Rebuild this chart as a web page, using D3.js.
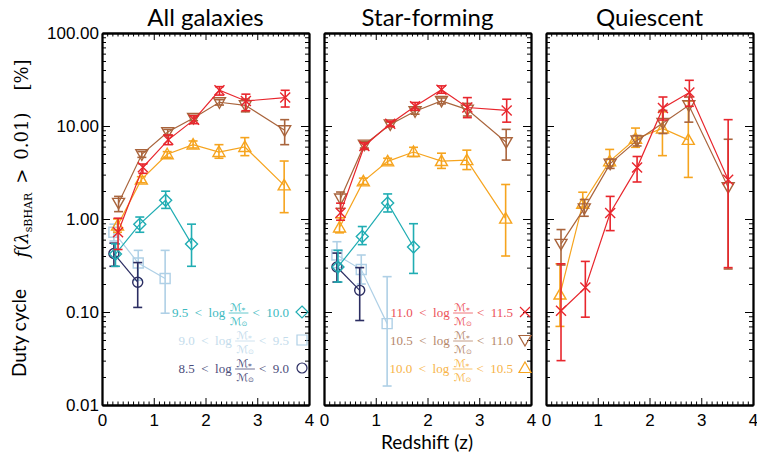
<!DOCTYPE html>
<html>
<head>
<meta charset="utf-8">
<script src="https://cdn.jsdelivr.net/npm/d3@7"></script>
<style>
body { margin: 0; background: #fff; }
</style>
</head>
<body>
<script>
// rows: [redshift, duty cycle %, lower error, upper error]
// ---- All galaxies
var all_110 = [[0.31,0.72,0.47,1.02],[0.79,3.6,3.1,3.9],[1.28,7.1,6.3,8.0],[1.78,11.7,10.6,12.9],[2.27,24.2,21.5,26.5],[2.78,18.6,14.6,22.0],[3.54,20.2,16.0,24.2]];
var all_105 = [[0.32,1.49,1.2,1.75],[0.77,4.96,4.6,5.3],[1.27,8.6,8.0,9.2],[1.77,12.2,11.4,13.0],[2.27,18.0,16.8,19.2],[2.77,16.7,14.2,19.5],[3.53,9.0,6.3,11.7]];
var all_100 = [[0.30,0.85,0.72,1.0],[0.76,2.65,2.45,2.85],[1.26,4.97,4.6,5.3],[1.76,6.3,5.8,6.9],[2.26,5.25,4.5,6.3],[2.76,5.95,4.8,7.5],[3.52,2.3,1.17,4.2]];
var all_095 = [[0.26,0.42,0.31,0.54],[0.73,0.88,0.72,1.05],[1.23,1.59,1.30,1.99],[1.73,0.54,0.31,0.88]];
var all_090 = [[0.23,0.72,0.58,0.88],[0.70,0.336,0.22,0.46],[1.22,0.229,0.097,0.46]];
var all_085 = [[0.23,0.425,0.31,0.55],[0.69,0.209,0.112,0.34]];
// ---- Star-forming
var sf_110 = [[0.32,1.17,0.97,1.48],[0.78,6.1,5.6,6.6],[1.28,10.6,9.9,11.3],[1.76,16.3,14.8,17.9],[2.27,24.6,22.5,27.0],[2.77,15.8,12.3,20.2],[3.53,14.7,11.0,19.4]];
var sf_105 = [[0.32,1.66,1.3,1.95],[0.78,6.3,5.8,6.8],[1.28,10.4,9.8,11.0],[1.76,14.4,13.4,15.5],[2.27,18.6,17.3,20.0],[2.77,15.0,12.8,17.5],[3.52,6.7,4.3,9.2]];
var sf_100 = [[0.30,0.81,0.71,1.03],[0.76,2.54,2.35,2.75],[1.23,4.17,3.85,4.5],[1.73,5.25,4.7,5.9],[2.27,4.2,3.5,5.1],[2.76,4.3,3.4,5.5],[3.51,1.01,0.40,2.35]];
var sf_095 = [[0.27,0.305,0.21,0.46],[0.74,0.65,0.53,0.83],[1.23,1.49,1.19,1.86],[1.73,0.5,0.26,0.89]];
var sf_090 = [[0.25,0.41,0.30,0.57],[0.72,0.286,0.20,0.41],[1.22,0.075,0.016,0.24]];
var sf_085 = [[0.25,0.305,0.21,0.43],[0.69,0.171,0.081,0.30]];
// ---- Quiescent
var q_110 = [[0.29,0.103,0.03,0.33],[0.76,0.183,0.088,0.35],[1.24,1.16,0.75,1.75],[1.76,3.57,2.5,4.7],[2.26,15.6,11.6,20.5],[2.77,22.9,16.3,31.0],[3.52,2.65,0.3,11.7]];
var q_105 = [[0.29,0.54,0.32,0.77],[0.74,1.3,1.07,1.62],[1.24,3.94,3.5,4.4],[1.76,7.0,6.1,7.9],[2.26,10.8,8.3,14.7],[2.76,16.7,11.0,20.5],[3.52,2.2,0.29,7.2]];
var q_100 = [[0.27,0.154,0.07,0.33],[0.71,1.46,1.34,1.94],[1.23,4.17,3.7,5.6],[1.73,7.3,5.9,9.5],[2.25,9.4,4.8,14.2],[2.75,7.1,2.8,18.6]];

var titles = ["All galaxies", "Star-forming", "Quiescent"];
var xTicks = [0, 1, 2, 3, 4];
var yTicks = [0.01, 0.1, 1, 10, 100];
var yTickLabels = ["0.01", "0.10", "1.00", "10.00", "100.00"];
var massLo = ["8.5", "9.0", "9.5", "10.0", "10.5", "11.0"];
var massHi = ["9.0", "9.5", "10.0", "10.5", "11.0", "11.5"];

// style per mass bin (index into massLo)
var colors = ["#2b2d62", "#afd0e6", "#20adb3", "#f6a41e", "#a9643c", "#e8262d"];
var textColors = ["#4b4d7a", "#c4dcec", "#3cbabf", "#f7b447", "#b5876a", "#ec5158"];
var shapes = ["circle", "square", "diamond", "triup", "tridown", "cross"];

var panelSeries = [
  [[1, all_090], [0, all_085], [2, all_095], [3, all_100], [4, all_105], [5, all_110]],
  [[1, sf_090], [0, sf_085], [2, sf_095], [3, sf_100], [4, sf_105], [5, sf_110]],
  [[3, q_100], [4, q_105], [5, q_110]]
];

var W = 757, H = 459;
var panelLeft = [102, 324, 546],
    panelWidth = 207,
    plotTop = 33, plotBottom = 405;

var svg = d3.select('body').append('svg')
  .attr('width', W).attr('height', H)
  .style('font-family', 'Liberation Sans, Arial, sans-serif');

var yScale = d3.scaleLog().domain([0.01, 100]).range([plotBottom, plotTop]);

function minorLog() {
  var out = [];
  [0.01, 0.1, 1, 10].forEach(function(d) {
    for (var k = 2; k <= 9; k++) out.push(d * k);
  });
  return out;
}

function marker(shape) {
  if (shape == "circle") return "M5,0A5,5 0 1,1 -5,0A5,5 0 1,1 5,0Z";
  if (shape == "square") return "M-5,-5H5V5H-5Z";
  if (shape == "diamond") return "M0,-6L6,0L0,6L-6,0Z";
  if (shape == "triup") return "M0,-6L6,4.5L-6,4.5Z";
  if (shape == "tridown") return "M0,6L6,-4.5L-6,-4.5Z";
  return "M-5,-5L5,5M-5,5L5,-5";
}

panelLeft.forEach(function(x0, p) {
  var xScale = d3.scaleLinear().domain([0, 4]).range([x0, x0 + panelWidth]);
  var g = svg.append('g');

  // series
  panelSeries[p].forEach(function(s) {
    var idx = s[0], rows = s[1], col = colors[idx];
    var line = d3.line()
      .x(function(d) { return xScale(d[0]); })
      .y(function(d) { return yScale(d[1]); });
    g.append('path').datum(rows)
      .attr('d', line)
      .attr('fill', 'none')
      .attr('stroke', col)
      .attr('stroke-width', 1.2);

    var eb = g.selectAll(null).data(rows).enter().append('g')
      .attr('stroke', col).attr('stroke-width', 1.6).attr('fill', 'none');
    eb.append('line')
      .attr('x1', function(d) { return xScale(d[0]); })
      .attr('x2', function(d) { return xScale(d[0]); })
      .attr('y1', function(d) { return yScale(d[2]); })
      .attr('y2', function(d) { return yScale(d[3]); });
    eb.append('line')
      .attr('x1', function(d) { return xScale(d[0]) - 4.5; })
      .attr('x2', function(d) { return xScale(d[0]) + 4.5; })
      .attr('y1', function(d) { return yScale(d[2]); })
      .attr('y2', function(d) { return yScale(d[2]); });
    eb.append('line')
      .attr('x1', function(d) { return xScale(d[0]) - 4.5; })
      .attr('x2', function(d) { return xScale(d[0]) + 4.5; })
      .attr('y1', function(d) { return yScale(d[3]); })
      .attr('y2', function(d) { return yScale(d[3]); });

    g.selectAll(null).data(rows).enter().append('path')
      .attr('transform', function(d) { return 'translate(' + xScale(d[0]) + ',' + yScale(d[1]) + ')'; })
      .attr('d', marker(shapes[idx]))
      .attr('fill', 'none')
      .attr('stroke', col)
      .attr('stroke-width', 1.4);
  });

  // axes, ticks pointing inward
  var minorX = d3.range(0, 4.001, 0.1).filter(function(d) { return Math.abs(d - Math.round(d)) > 0.01; });

  svg.append('g').attr('transform', 'translate(0,' + plotBottom + ')')
    .call(d3.axisBottom(xScale).tickValues(xTicks).tickFormat(d3.format('d')).tickSize(-7).tickSizeOuter(0).tickPadding(9));
  svg.append('g').attr('transform', 'translate(0,' + plotBottom + ')')
    .call(d3.axisBottom(xScale).tickValues(minorX).tickFormat('').tickSize(-3.5).tickSizeOuter(0));
  svg.append('g').attr('transform', 'translate(0,' + plotTop + ')')
    .call(d3.axisTop(xScale).tickValues(xTicks).tickFormat('').tickSize(-7).tickSizeOuter(0));
  svg.append('g').attr('transform', 'translate(0,' + plotTop + ')')
    .call(d3.axisTop(xScale).tickValues(minorX).tickFormat('').tickSize(-3.5).tickSizeOuter(0));

  svg.append('g').attr('transform', 'translate(' + x0 + ',0)')
    .call(d3.axisLeft(yScale).tickValues(yTicks)
      .tickFormat(function(d, i) { return p == 0 ? yTickLabels[i] : ''; })
      .tickSize(-8).tickSizeOuter(0).tickPadding(3));
  svg.append('g').attr('transform', 'translate(' + x0 + ',0)')
    .call(d3.axisLeft(yScale).tickValues(minorLog()).tickFormat('').tickSize(-4).tickSizeOuter(0));
  svg.append('g').attr('transform', 'translate(' + (x0 + panelWidth) + ',0)')
    .call(d3.axisRight(yScale).tickValues(yTicks).tickFormat('').tickSize(-8).tickSizeOuter(0));
  svg.append('g').attr('transform', 'translate(' + (x0 + panelWidth) + ',0)')
    .call(d3.axisRight(yScale).tickValues(minorLog()).tickFormat('').tickSize(-4).tickSizeOuter(0));

  svg.selectAll('.domain').attr('stroke', '#000').attr('stroke-width', 1.8);
  svg.selectAll('.tick line').attr('stroke', '#000').attr('stroke-width', 1);
  svg.selectAll('.tick text').attr('fill', '#000').attr('font-size', '17px')
    .attr('font-family', 'Liberation Sans, Arial, sans-serif');

  svg.append('text')
    .attr('x', x0 + panelWidth / 2).attr('y', 26)
    .attr('text-anchor', 'middle')
    .attr('font-family', 'Lato, sans-serif')
    .attr('font-size', '24px')
    .text(titles[p]);
});

// legends
function legendRow(idx, xRight, yBase, symX) {
  var col = textColors[idx];
  var g = svg.append('g')
    .attr('font-family', 'Liberation Serif, DejaVu Serif, serif')
    .attr('font-size', '13px')
    .attr('fill', col);
  var t1 = g.append('text').attr('x', 0).attr('y', 0).text(massLo[idx] + '\u2002<\u2002log');
  var fx = t1.node().getBBox().width + 3;
  var num = g.append('text').attr('x', fx + 1).attr('y', -6)
    .attr('font-family', 'DejaVu Sans, sans-serif').attr('font-size', '11px');
  num.append('tspan').text('ℳ');
  num.append('tspan').attr('font-size', '7.5px').attr('dy', 1.5).text('*');
  var den = g.append('text').attr('x', fx + 1).attr('y', 7.5)
    .attr('font-family', 'DejaVu Sans, sans-serif').attr('font-size', '11px');
  den.append('tspan').text('ℳ');
  den.append('tspan').attr('font-size', '7px').attr('dy', 1.5).text('⊙');
  var fw = Math.max(num.node().getBBox().width, den.node().getBBox().width) + 2;
  g.append('line').attr('x1', fx).attr('x2', fx + fw).attr('y1', -4).attr('y2', -4)
    .attr('stroke', col).attr('stroke-width', 0.8);
  g.append('text').attr('x', fx + fw + 4).attr('y', 0).text('<\u2002' + massHi[idx]);
  var bb = g.node().getBBox();
  g.attr('transform', 'translate(' + (xRight - (bb.x + bb.width)) + ',' + yBase + ')');

  svg.append('path')
    .attr('transform', 'translate(' + symX + ',' + (yBase - 5) + ')')
    .attr('d', marker(shapes[idx]))
    .attr('fill', 'none')
    .attr('stroke', colors[idx])
    .attr('stroke-width', 1.2);
}
legendRow(2, 289, 317, 302);
legendRow(1, 289, 345, 302);
legendRow(0, 289, 373, 302);
legendRow(5, 513, 317, 525);
legendRow(4, 513, 345, 525);
legendRow(3, 513, 373, 525);

// axis titles
svg.append('text')
  .attr('x', 427).attr('y', 449)
  .attr('text-anchor', 'middle')
  .attr('font-family', 'Lato, sans-serif')
  .attr('font-size', '19px')
  .text('Redshift (z)');

svg.append('text')
  .attr('transform', 'translate(26,333) rotate(-90)')
  .attr('text-anchor', 'middle')
  .attr('font-family', 'Lato, sans-serif')
  .attr('font-size', '19px')
  .text('Duty cycle');

var ft = svg.append('text')
  .attr('transform', 'translate(28,185) rotate(-90)')
  .attr('text-anchor', 'middle')
  .attr('font-family', 'DejaVu Serif, serif')
  .attr('font-size', '18px');
ft.append('tspan').attr('font-style', 'italic').text('f');
ft.append('tspan').text('(');
ft.append('tspan').attr('font-style', 'italic').text('λ');
ft.append('tspan').attr('font-size', '11px').attr('dy', 4).text('sBHAR');
ft.append('tspan').attr('dy', -4).text('\u2002>\u20020.01)');

svg.append('text')
  .attr('transform', 'translate(28,75) rotate(-90)')
  .attr('text-anchor', 'middle')
  .attr('font-family', 'DejaVu Serif, serif')
  .attr('font-size', '18px')
  .text('[%]');
</script>
</body>
</html>
